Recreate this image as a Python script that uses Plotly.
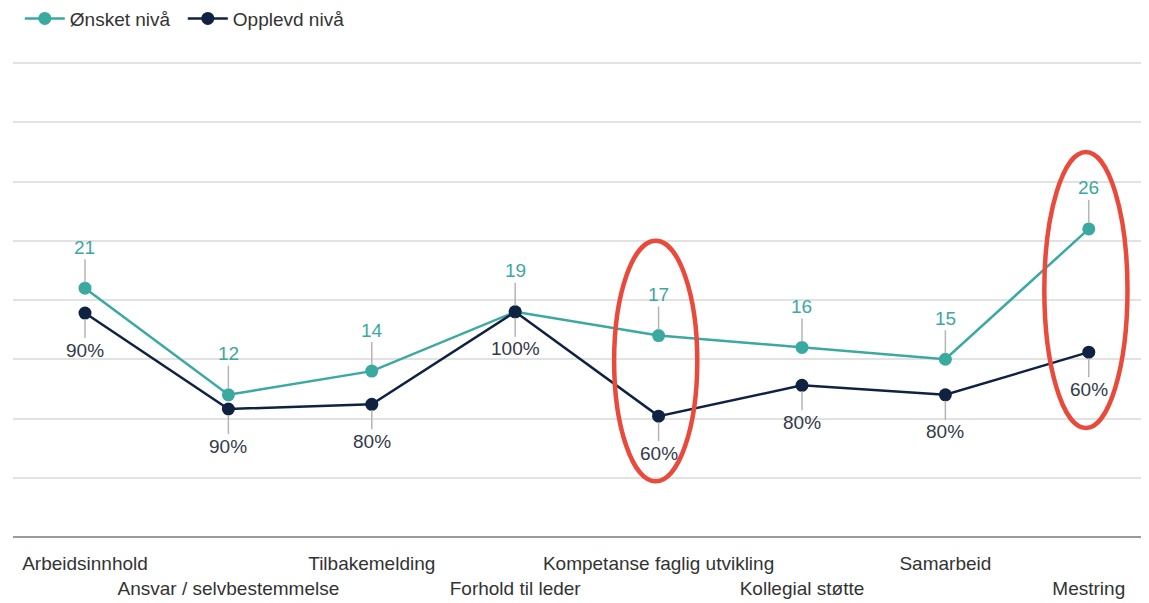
import plotly.graph_objects as go

categories = ["Arbeidsinnhold", "Ansvar / selvbestemmelse", "Tilbakemelding",
              "Forhold til leder", "Kompetanse faglig utvikling", "Kollegial støtte",
              "Samarbeid", "Mestring"]
onsket = [21, 12, 14, 19, 17, 16, 15, 26]
opplevd = [18.9, 10.8, 11.2, 19, 10.2, 12.8, 12, 15.6]
opplevd_labels = ["90%", "90%", "80%", "100%", "60%", "80%", "80%", "60%"]
highlighted = [4, 7]

TEAL = "#3aa9a0"
NAVY = "#0f2242"
FONT = "Liberation Sans, Arial, sans-serif"

x = list(range(len(categories)))

fig = go.Figure()
fig.add_trace(go.Scatter(x=x, y=onsket, name="Ønsket nivå", mode="lines+markers",
                         line=dict(color=TEAL, width=2.5),
                         marker=dict(color=TEAL, size=13)))
fig.add_trace(go.Scatter(x=x, y=opplevd, name="Opplevd nivå", mode="lines+markers",
                         line=dict(color=NAVY, width=2.5),
                         marker=dict(color=NAVY, size=13)))

annotations = []
for i, v in enumerate(onsket):
    annotations.append(dict(x=i, y=v, xref="x", yref="y", text=str(v),
                            showarrow=True, arrowhead=0, ax=0, ay=-41,
                            arrowcolor="#b5b5b5", arrowwidth=1.5, standoff=6,
                            font=dict(color=TEAL, size=19, family=FONT)))
for i, (v, lab) in enumerate(zip(opplevd, opplevd_labels)):
    annotations.append(dict(x=i, y=v, xref="x", yref="y", text=lab,
                            showarrow=True, arrowhead=0, ax=0, ay=37,
                            arrowcolor="#b5b5b5", arrowwidth=1.5, standoff=6,
                            font=dict(color="#333a48", size=19, family=FONT)))

shapes = []
ell = [(4, 25.0, 4.7), (7, 32.5, 9.2)]
for ci, ytop, ybot in ell:
    shapes.append(dict(type="circle", xref="x", yref="y",
                       x0=ci - 0.31, x1=ci + 0.27, y0=ybot, y1=ytop,
                       line=dict(color="#ea4a3c", width=4.5)))

ticktext = [c if i % 2 == 0 else "<br>" + c for i, c in enumerate(categories)]

fig.update_layout(
    width=1141, height=595,
    margin=dict(l=5, r=0, t=53, b=66, autoexpand=False),
    paper_bgcolor="white", plot_bgcolor="white",
    font=dict(family=FONT, size=19, color="#333333"),
    showlegend=True,
    legend=dict(orientation="h", x=0.006, xanchor="left", y=1.129, yanchor="top",
                font=dict(size=19, color="#333333"), itemwidth=40,
                entrywidth=108, entrywidthmode="pixels",
                bgcolor="rgba(0,0,0,0)"),
    xaxis=dict(range=[-0.502, 7.42], tickmode="array", tickvals=x, ticktext=ticktext,
               showgrid=False, zeroline=False, showline=False, ticks="",
               tickangle=0, automargin=False, ticklabelstandoff=13,
               tickfont=dict(size=19, color="#333333", family=FONT)),
    yaxis=dict(range=[0, 40.17], dtick=5, showticklabels=False, showgrid=True,
               gridcolor="#e2e2e2", gridwidth=1.5, zeroline=True, automargin=False,
               zerolinecolor="#9a9a9a", zerolinewidth=2),
    annotations=annotations,
    shapes=shapes,
)

fig.write_html("out.html")
